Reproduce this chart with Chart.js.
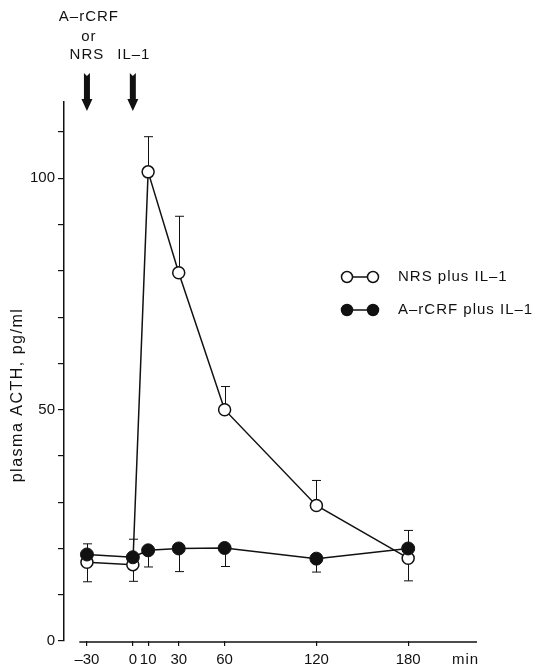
<!DOCTYPE html>
<html>
<head>
<meta charset="utf-8">
<script src="https://cdn.jsdelivr.net/npm/chart.js@4/dist/chart.umd.min.js"></script>
<style>
  body { margin: 0; background: #fff; }
  #wrap { width: 537px; height: 670px; }
</style>
</head>
<body>
<div id="wrap"><canvas id="acthChart"></canvas></div>
<script>
// minutes relative to IL-1 injection
const times = [-30, 0, 10, 30, 60, 120, 180];
const xTickValues = [-30, 0, 10, 30, 60, 120, 180];
const yLabelValues = [0, 50, 100];

// plasma ACTH, pg/ml
const nrsValues = [17.0, 16.5, 101.4, 79.6, 50.0, 29.3, 17.9];
const nrsErrEnd = [12.8, 12.9, 109.0, 91.8, 55.0, 34.7, 13.0];
const acrfValues = [18.7, 18.1, 19.6, 20.0, 20.1, 17.8, 20.0];
const acrfErrEnd = [21.0, 22.0, 16.0, 15.0, 16.1, 14.9, 23.9];

const nrsLabel = 'NRS plus IL\u20131';
const acrfLabel = 'A\u2013rCRF plus IL\u20131';
const yTitle = 'plasma ACTH, pg/ml';

const FONT = '"Liberation Sans", Arial, sans-serif';
const INK = '#111';

const toPoints = (xs, ys) => xs.map((x, i) => ({ x: x, y: ys[i] }));

const extras = {
    id: 'extras',
    beforeDatasetsDraw(chart) {
        const c = chart.ctx;
        const xs = chart.scales.x, ys = chart.scales.y;
        c.save();
        c.strokeStyle = INK;
        c.lineWidth = 1;
        const bars = (vals, ends) => {
            vals.forEach((v, i) => {
                const px = Math.round(xs.getPixelForValue(times[i])) + 0.5;
                const y0 = ys.getPixelForValue(v);
                const y1 = ys.getPixelForValue(ends[i]);
                c.beginPath();
                c.moveTo(px, y0);
                c.lineTo(px, y1);
                c.moveTo(px - 4.5, y1);
                c.lineTo(px + 4.5, y1);
                c.stroke();
            });
        };
        bars(nrsValues, nrsErrEnd);
        bars(acrfValues, acrfErrEnd);
        c.restore();
    },
    afterDraw(chart) {
        const c = chart.ctx;
        const xs = chart.scales.x, ys = chart.scales.y;
        c.save();
        // x axis line, offset from the y axis
        c.strokeStyle = INK;
        c.lineWidth = 1.5;
        const yb = ys.getPixelForValue(0) + 1;
        c.beginPath();
        c.moveTo(xs.getPixelForValue(-35), yb);
        c.lineTo(xs.getPixelForValue(225), yb);
        c.stroke();

        c.fillStyle = INK;
        c.font = '15px ' + FONT;
        c.letterSpacing = '1px';
        c.textAlign = 'left';
        c.textBaseline = 'middle';
        c.fillText('min', 452, 660);

        // y axis title
        c.save();
        c.translate(18, 395);
        c.rotate(-Math.PI / 2);
        c.textAlign = 'center';
        c.font = '16px ' + FONT;
        c.letterSpacing = '1.5px';
        c.fillText(yTitle, 0, 0);
        c.restore();

        // injection arrows
        const arrow = (x) => {
            c.beginPath();
            c.moveTo(x - 3, 73);
            c.lineTo(x, 76);
            c.lineTo(x + 3, 73);
            c.lineTo(x + 3, 99);
            c.lineTo(x + 5.5, 99);
            c.lineTo(x, 111);
            c.lineTo(x - 5.5, 99);
            c.lineTo(x - 3, 99);
            c.closePath();
            c.fill();
        };
        const xa = xs.getPixelForValue(-30);
        const xb = xs.getPixelForValue(0);
        arrow(xa);
        arrow(xb);
        c.textAlign = 'center';
        c.fillText('A\u2013rCRF', xa + 2, 17);
        c.fillText('or', xa + 2, 37);
        c.fillText('NRS', xa, 55);
        c.fillText('IL\u20131', xb + 1, 55);

        // legend
        const legend = (y, filled, text) => {
            c.lineWidth = 1.5;
            c.beginPath();
            c.moveTo(347, y);
            c.lineTo(373, y);
            c.stroke();
            [347, 373].forEach(x => {
                c.beginPath();
                c.arc(x, y, 5.5, 0, Math.PI * 2);
                c.fillStyle = filled ? INK : '#fff';
                c.fill();
                c.stroke();
            });
            c.fillStyle = INK;
            c.textAlign = 'left';
            c.fillText(text, 398, y);
        };
        legend(277, false, nrsLabel);
        legend(310, true, acrfLabel);
        c.restore();
    }
};

new Chart(document.getElementById('acthChart'), {
    type: 'line',
    data: {
        datasets: [{
            label: acrfLabel,
            data: toPoints(times, acrfValues),
            borderColor: INK,
            borderWidth: 1.5,
            backgroundColor: INK,
            pointBackgroundColor: INK,
            pointBorderColor: INK,
            pointRadius: 6.5,
            pointBorderWidth: 1,
            tension: 0,
            order: 0
        }, {
            label: nrsLabel,
            data: toPoints(times, nrsValues),
            borderColor: INK,
            borderWidth: 1.5,
            pointBackgroundColor: '#fff',
            pointBorderColor: INK,
            pointRadius: 6,
            pointBorderWidth: 1.5,
            tension: 0,
            order: 1
        }]
    },
    options: {
        responsive: true,
        maintainAspectRatio: false,
        animation: false,
        layout: { padding: { top: 102, right: 60, left: 0, bottom: 0 } },
        plugins: { legend: { display: false }, tooltip: { enabled: false } },
        scales: {
            x: {
                type: 'linear',
                min: -45,
                max: 225,
                afterBuildTicks: s => { s.ticks = xTickValues.map(v => ({ value: v })); },
                afterFit: s => { s.height = 29; },
                border: { display: false },
                grid: { drawOnChartArea: false, drawTicks: true, tickLength: 5, color: INK, lineWidth: 1.2 },
                ticks: {
                    color: INK,
                    font: { family: FONT, size: 15 },
                    padding: 5,
                    maxRotation: 0,
                    autoSkip: false,
                    callback: v => String(v).replace('-', '\u2013')
                }
            },
            y: {
                min: 0,
                max: 116.5,
                afterFit: s => { s.width = 64; },
                border: { display: true, color: INK, width: 1.5 },
                grid: { drawOnChartArea: false, drawTicks: true, tickLength: 6, color: INK, lineWidth: 1.2 },
                ticks: {
                    stepSize: 10,
                    includeBounds: false,
                    color: INK,
                    font: { family: FONT, size: 15 },
                    padding: 3,
                    callback: v => yLabelValues.includes(v) ? String(v) : ''
                }
            }
        }
    },
    plugins: [extras]
});
</script>
</body>
</html>
